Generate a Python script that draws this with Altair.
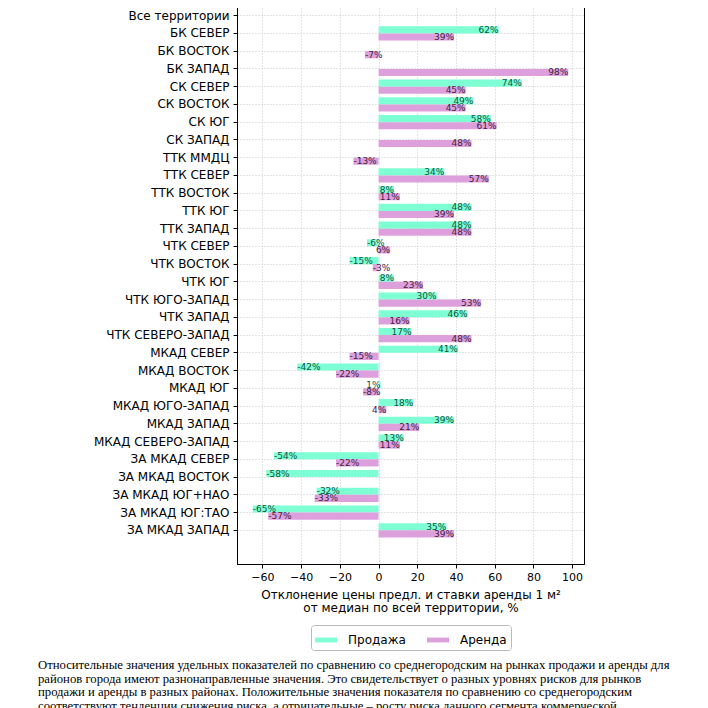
import altair as alt
import pandas as pd

categories = [
    "Все территории", "БК СЕВЕР", "БК ВОСТОК", "БК ЗАПАД", "СК СЕВЕР", "СК ВОСТОК",
    "СК ЮГ", "СК ЗАПАД", "ТТК ММДЦ", "ТТК СЕВЕР", "ТТК ВОСТОК", "ТТК ЮГ", "ТТК ЗАПАД",
    "ЧТК СЕВЕР", "ЧТК ВОСТОК", "ЧТК ЮГ", "ЧТК ЮГО-ЗАПАД", "ЧТК ЗАПАД", "ЧТК СЕВЕРО-ЗАПАД",
    "МКАД СЕВЕР", "МКАД ВОСТОК", "МКАД ЮГ", "МКАД ЮГО-ЗАПАД", "МКАД ЗАПАД",
    "МКАД СЕВЕРО-ЗАПАД", "ЗА МКАД СЕВЕР", "ЗА МКАД ВОСТОК", "ЗА МКАД ЮГ+НАО",
    "ЗА МКАД ЮГ:ТАО", "ЗА МКАД ЗАПАД",
]
sale = [None, 62, None, None, 74, 49, 58, None, None, 34, 8, 48, 48,
        -6, -15, 8, 30, 46, 17, 41, -42, 1, 18, 39, 13, -54, -58, -32, -65, 35]
rent = [None, 39, -7, 98, 45, 45, 61, 48, -13, 57, 11, 39, 48,
        6, -3, 23, 53, 16, 48, -15, -22, -8, 4, 21, 11, -22, None, -33, -57, 39]
series = ["Продажа", "Аренда"]
bar_colors = ["#7fffd4", "#dda0dd"]
text_colors = ["#0f5443", "#44203f"]
x_ticks = [-60, -40, -20, 0, 20, 40, 60, 80, 100]
x_title = ["Отклонение цены предл. и ставки аренды 1 м²", "от медиан по всей территории, %"]
paragraph = [
    "Относительные значения удельных показателей по сравнению со среднегородским на рынках продажи и аренды для",
    "районов города имеют разнонаправленные значения. Это свидетельствует о разных уровнях рисков для рынков",
    "продажи и аренды в разных районах. Положительные значения показателя по сравнению со среднегородским",
    "соответствуют тенденции снижения риска, а отрицательные – росту риска данного сегмента коммерческой",
]

# axis margins above the first and below the last category (empty slots)
y_domain = [" "] + categories + ["  "]

rows = []
for c, s, r in zip(categories, sale, rent):
    rows.append({"cat": c, "series": series[0], "v": s})
    rows.append({"cat": c, "series": series[1], "v": r})
df = pd.DataFrame(rows)

base = alt.Chart(df).transform_filter("isValid(datum.v)")

y_enc = alt.Y(
    "cat:N", sort=y_domain,
    scale=alt.Scale(domain=y_domain, paddingInner=0, paddingOuter=0.4),
    axis=alt.Axis(title=None, values=categories, labelFontSize=12, tickSize=4,
                  labelPadding=4, grid=True),
)
yoff_enc = alt.YOffset(
    "series:N", sort=series,
    scale=alt.Scale(domain=series, paddingInner=0, paddingOuter=0.25),
)
x_enc = alt.X(
    "v:Q",
    scale=alt.Scale(domain=[-73.15, 106.15], nice=False, zero=False),
    axis=alt.Axis(values=x_ticks, title=x_title, labelFontSize=11, tickSize=4,
                  labelPadding=3, titleFontSize=12, titleFontWeight="normal",
                  titlePadding=7, titleLineHeight=13, grid=True),
)

bars = base.mark_bar().encode(
    x=x_enc,
    x2=alt.datum(0),
    y=y_enc,
    yOffset=yoff_enc,
    color=alt.Color(
        "series:N", sort=series,
        scale=alt.Scale(domain=series, range=bar_colors),
        legend=alt.Legend(
            title=None, orient="none", legendX=74, legendY=643,
            direction="horizontal",
            symbolType="M-1,-0.22L1,-0.22L1,0.22L-1,0.22Z", symbolSize=484,
            symbolStrokeWidth=0, symbolOpacity=1,
            labelFontSize=12, labelFont="DejaVu Sans", labelColor="black",
            labelOffset=11, columnPadding=21,
            strokeColor="#bbbbbb", fillColor="white", padding=4, cornerRadius=3,
        ),
    ),
)

labels = base.transform_calculate(label="datum.v + '%'").mark_text(
    fontSize=9, font="DejaVu Sans", baseline="middle",
    align=alt.expr("datum.v >= 0 ? 'right' : 'left'"),
).encode(
    x="v:Q",
    y=alt.Y("cat:N", sort=y_domain),
    yOffset=alt.YOffset("series:N", sort=series),
    text="label:N",
    color=alt.condition(f"datum.series == '{series[0]}'",
                        alt.value(text_colors[0]), alt.value(text_colors[1])),
)

para = alt.Chart(pd.DataFrame({"t": ["\n".join(paragraph)]})).mark_text(
    align="left", baseline="top", lineBreak="\n", lineHeight=13.5,
    font="Liberation Serif", fontSize=12.7, color="black",
).encode(x=alt.value(-199), y=alt.value(677), text="t:N")

chart = alt.layer(bars, labels, para).properties(
    width=347, height=582,
    autosize=alt.AutoSizeParams(type="none"),
    padding={"left": 229, "top": -26, "right": 110, "bottom": 144},
).configure_view(stroke="black", strokeWidth=1).configure_axis(
    labelFont="DejaVu Sans", titleFont="DejaVu Sans", labelColor="black",
    titleColor="black", domainColor="black", tickColor="black",
    gridColor="#c8c8c8", gridDash=[1, 2], gridWidth=1,
)

chart.save("out.html", embed_options={"renderer": "svg", "actions": False})
